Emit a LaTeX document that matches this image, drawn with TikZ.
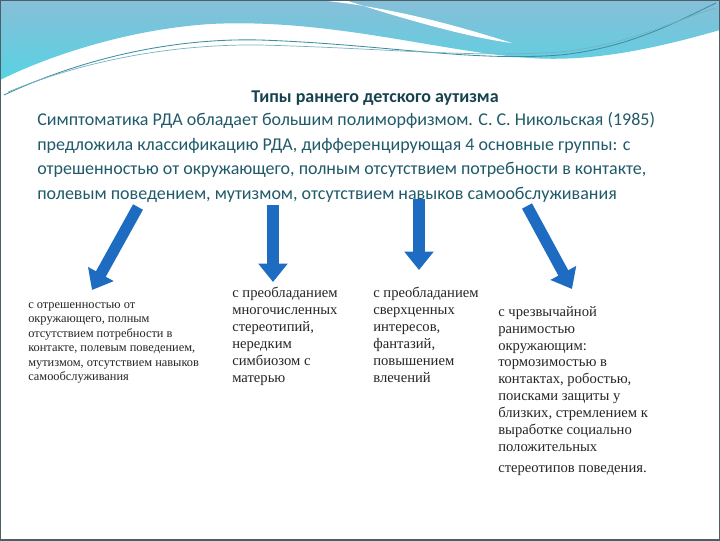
\documentclass[tikz,border=0pt]{standalone}
\usepackage{fontspec}
\setmainfont{Liberation Serif}
\newfontfamily\headfont{Carlito}
\usetikzlibrary{arrows.meta, positioning}

\definecolor{headteal}{HTML}{17434F}
\definecolor{introteal}{HTML}{215A6A}
\definecolor{arrowblue}{HTML}{1E6CC2}
\definecolor{waveblue}{HTML}{86BFD8}
\definecolor{wavecyan}{HTML}{58D2E3}
\definecolor{waveline}{HTML}{3C8FA3}
\definecolor{framegray}{HTML}{4A5F68}

\begin{document}
\begin{tikzpicture}[
    x=0.025cm, y=-0.025cm,
    head/.style={font=\headfont\bfseries\fontsize{12.8}{17.4}\selectfont, text=headteal, inner sep=0pt},
    intro/.style={font=\headfont\fontsize{12.8}{17.6}\selectfont, text=introteal, align=left, inner sep=0pt},
    grouptext/.style={font=\fontsize{10.4}{12}\selectfont, text=black!85, align=left, inner sep=0pt, anchor=north west},
    smallgroup/.style={grouptext, font=\fontsize{8.8}{10.3}\selectfont},
    bluearrow/.style={-{Triangle[width=20pt,length=13pt]}, line width=8pt, draw=arrowblue},
  ]
  \useasboundingbox (0,0) rectangle (720,540);
  \fill[white] (0,0) rectangle (720,540);

  % top wave
  \shade[top color=waveblue, bottom color=wavecyan]
    (0,0) -- (720,0) -- (720,30) .. controls (650,50) and (590,62) .. (530,58)
    .. controls (440,52) and (330,18) .. (210,24)
    .. controls (120,30) and (40,60) .. (0,80) -- cycle;
  \fill[white] (318,0) .. controls (400,8) and (470,30) .. (512,43)
    .. controls (470,38) and (400,18) .. (345,0) -- cycle;
  \draw[waveline, line width=0.6pt] (4,95) .. controls (90,55) and (180,38) .. (260,40)
    .. controls (380,44) and (470,62) .. (560,55) .. controls (630,48) and (680,20) .. (716,3);
  \draw[waveline!70, line width=0.5pt] (8,92) .. controls (90,58) and (180,44) .. (260,45)
    .. controls (380,48) and (470,58) .. (560,52) .. controls (630,45) and (680,18) .. (716,8);
  \draw[framegray, line width=1.5pt] (0,0) rectangle (720,540);

  % header
  \node[head, anchor=base] (title) at (375,102) {Типы раннего детского аутизма};
  \node[intro, anchor=north west] (intro) at (37,112)
    {Симптоматика РДА обладает большим полиморфизмом. С. С. Никольская (1985)\\
     предложила классификацию РДА, дифференцирующая 4 основные группы: с\\
     отрешенностью от окружающего, полным отсутствием потребности в контакте,\\
     полевым поведением, мутизмом, отсутствием навыков самообслуживания};

  % groups
  \node[smallgroup] (detach) at (28,302)
    {с отрешенностью от\\окружающего, полным\\отсутствием потребности в\\контакте, полевым поведением,\\мутизмом, отсутствием навыков\\самообслуживания};
  \node[grouptext] (stereo) at (232,287)
    {с преобладанием\\многочисленных\\стереотипий,\\нередким\\симбиозом с\\матерью};
  \node[grouptext] (interest) at (373,287)
    {с преобладанием\\сверхценных\\интересов,\\фантазий,\\повышением\\влечений};
  \node[grouptext] (vulner) at (498,306)
    {с чрезвычайной\\ранимостью\\окружающим:\\тормозимостью в\\контактах, робостью,\\поисками защиты у\\близких, стремлением к\\выработке социально\\положительных\\[3pt]стереотипов поведения.};

  % arrows
  \coordinate (detachtop)   at (138,207);
  \coordinate (detachtip)   at (92,290);
  \coordinate (stereotop)   at (273,205);
  \coordinate (stereotip)   at (273,282);
  \coordinate (interesttop) at (419,199);
  \coordinate (interesttip) at (419,270);
  \coordinate (vulnertop)   at (527,206);
  \coordinate (vulnertip)   at (572,289);

  \draw[bluearrow] (detachtop) -- (detachtip);
  \draw[bluearrow] (stereotop) -- (stereotip);
  \draw[bluearrow] (interesttop) -- (interesttip);
  \draw[bluearrow] (vulnertop) -- (vulnertip);
\end{tikzpicture}
\end{document}
